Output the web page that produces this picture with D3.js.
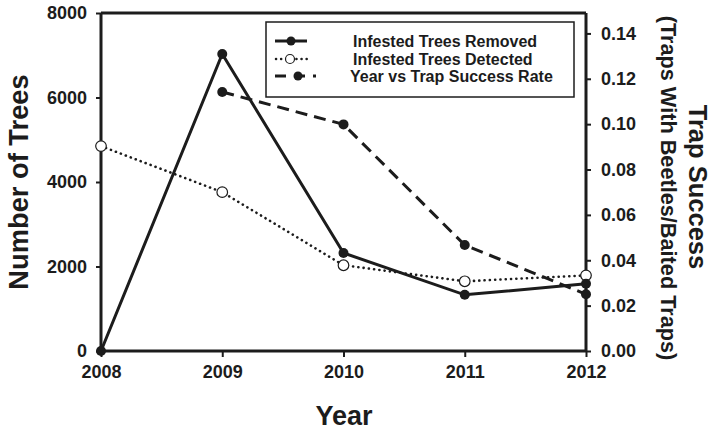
<!DOCTYPE html>
<html><head><meta charset="utf-8">
<script src="https://cdn.jsdelivr.net/npm/d3@7"></script>
<style>
html,body{margin:0;padding:0;background:#fff;}
svg{display:block;font-family:"Liberation Sans",Arial,sans-serif;font-weight:bold;}
</style></head>
<body><svg id="chart" width="713" height="430"></svg>
<script>
const years = [2008, 2009, 2010, 2011, 2012];
const removed = [0, 7030, 2320, 1330, 1590];
const detected = [4850, 3760, 2030, 1650, 1790];
const trapSuccess = [null, 0.1142, 0.0999, 0.0467, 0.0250];
const leftTicks = [0, 2000, 4000, 6000, 8000];
const rightTicks = [0, 0.02, 0.04, 0.06, 0.08, 0.10, 0.12, 0.14];
const seriesNames = ["Infested Trees Removed", "Infested Trees Detected", "Year vs Trap Success Rate"];

const ink = "#1c1c1c";
const svg = d3.select("#chart");
const L = 101, R = 586, T = 13, B = 351;

const x = d3.scaleLinear().domain([2008, 2012]).range([L, R]);
const yL = d3.scaleLinear().domain([0, 8000]).range([B, T]);
const yR = d3.scaleLinear().domain([0, 0.149]).range([B, T]);

svg.append("line").attr("x1", L).attr("x2", R).attr("y1", T).attr("y2", T)
  .attr("stroke", ink).attr("stroke-width", 3);

function styleAxis(g) {
  g.select(".domain").attr("stroke", ink).attr("stroke-width", 3);
  g.selectAll(".tick line").attr("stroke", ink).attr("stroke-width", 2);
  g.selectAll(".tick text").attr("fill", ink).attr("font-size", 18).attr("font-weight", "bold")
    .attr("font-family", "Liberation Sans, Arial, sans-serif");
}

const xAxis = svg.append("g").attr("transform", `translate(0,${B})`)
  .call(d3.axisBottom(x).tickValues(years).tickFormat(d3.format("d")).tickSizeOuter(0).tickSizeInner(6).tickPadding(8));
styleAxis(xAxis);

const lAxis = svg.append("g").attr("transform", `translate(${L},0)`)
  .call(d3.axisLeft(yL).tickValues(leftTicks).tickFormat(d3.format("d")).tickSizeOuter(0).tickSizeInner(5).tickPadding(9));
styleAxis(lAxis);

const rAxis = svg.append("g").attr("transform", `translate(${R},0)`)
  .call(d3.axisRight(yR).tickValues(rightTicks).tickFormat(d3.format(".2f")).tickSizeOuter(0).tickSizeInner(5).tickPadding(10));
styleAxis(rAxis);

lAxis.select(".domain").attr("d", `M0,${B}V${T}`);
rAxis.select(".domain").attr("d", `M0,${B}V${T}`);
xAxis.select(".domain").attr("d", `M${L},0H${R}`);

svg.append("text").attr("transform", `translate(28,182) rotate(-90)`)
  .attr("text-anchor", "middle").attr("font-size", 27.3).attr("fill", ink).text("Number of Trees");
svg.append("text").attr("x", 344).attr("y", 425)
  .attr("text-anchor", "middle").attr("font-size", 27).attr("fill", ink).text("Year");
svg.append("text").attr("transform", `translate(689,187) rotate(90)`)
  .attr("text-anchor", "middle").attr("font-size", 25.5).attr("fill", ink).text("Trap Success");
svg.append("text").attr("transform", `translate(661,188) rotate(90)`)
  .attr("text-anchor", "middle").attr("font-size", 21.7).attr("fill", ink).text("(Traps With Beetles/Baited Traps)");

const idx = d3.range(years.length);
const lineL = arr => d3.line().defined(i => arr[i] != null).x(i => x(years[i])).y(i => yL(arr[i]));
const lineR = arr => d3.line().defined(i => arr[i] != null).x(i => x(years[i])).y(i => yR(arr[i]));

svg.append("path").attr("d", lineL(detected)(idx)).attr("fill", "none").attr("stroke", ink)
  .attr("stroke-width", 2.6).attr("stroke-dasharray", "0.1 5.2").attr("stroke-linecap", "round");
svg.append("path").attr("d", lineR(trapSuccess)(idx)).attr("fill", "none").attr("stroke", ink)
  .attr("stroke-width", 3).attr("stroke-dasharray", "12 7");
svg.append("path").attr("d", lineL(removed)(idx)).attr("fill", "none").attr("stroke", ink)
  .attr("stroke-width", 3);

svg.append("g").selectAll("circle").data(idx.filter(i => trapSuccess[i] != null)).join("circle")
  .attr("cx", i => x(years[i])).attr("cy", i => yR(trapSuccess[i])).attr("r", 5).attr("fill", ink);
svg.append("g").selectAll("circle").data(idx).join("circle")
  .attr("cx", i => x(years[i])).attr("cy", i => yL(detected[i])).attr("r", 5.3)
  .attr("fill", "#fff").attr("stroke", ink).attr("stroke-width", 1.2);
svg.append("g").selectAll("circle").data(idx).join("circle")
  .attr("cx", i => x(years[i])).attr("cy", i => yL(removed[i])).attr("r", 5).attr("fill", ink);

const lg = svg.append("g");
lg.append("rect").attr("x", 266).attr("y", 22).attr("width", 308).attr("height", 75)
  .attr("fill", "#fff").attr("stroke", ink).attr("stroke-width", 1.5);
const rows = [41, 59, 76];
lg.append("line").attr("x1", 275).attr("x2", 307).attr("y1", rows[0]).attr("y2", rows[0]).attr("stroke", ink).attr("stroke-width", 3);
lg.append("circle").attr("cx", 291).attr("cy", rows[0]).attr("r", 4.5).attr("fill", ink);
lg.append("line").attr("x1", 276).attr("x2", 307).attr("y1", rows[1]).attr("y2", rows[1]).attr("stroke", ink)
  .attr("stroke-width", 2.5).attr("stroke-dasharray", "0.1 5").attr("stroke-linecap", "round");
lg.append("circle").attr("cx", 290).attr("cy", rows[1]).attr("r", 4.5).attr("fill", "#fff").attr("stroke", ink).attr("stroke-width", 1.2);
lg.append("line").attr("x1", 275).attr("x2", 316).attr("y1", rows[2]).attr("y2", rows[2]).attr("stroke", ink)
  .attr("stroke-width", 3).attr("stroke-dasharray", "11 8");
lg.append("circle").attr("cx", 298).attr("cy", rows[2]).attr("r", 4.5).attr("fill", ink);
const textX = [353, 353, 350];
lg.selectAll("text").data(seriesNames).join("text")
  .attr("x", (d, i) => textX[i]).attr("y", (d, i) => rows[i] + 6)
  .attr("font-size", 16).attr("fill", ink).text(d => d);
</script></body></html>
